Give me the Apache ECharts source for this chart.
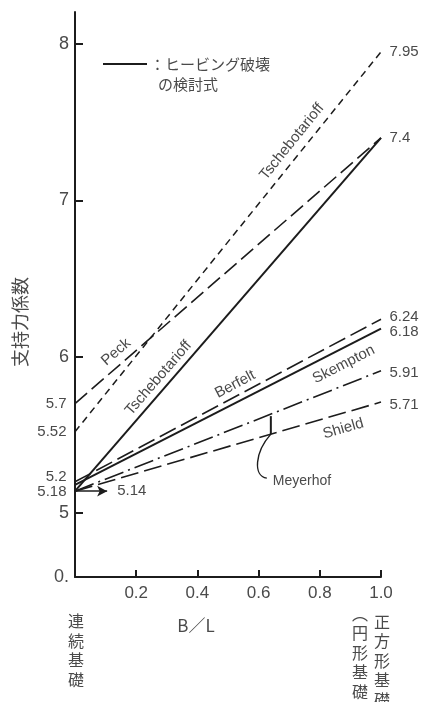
<!DOCTYPE html>
<html>
<head>
<meta charset="utf-8">
<script src="https://cdn.jsdelivr.net/npm/echarts@6/dist/echarts.min.js"></script>
<style>html,body{margin:0;padding:0;background:#fff;}#c{width:424px;height:702px;}</style>
</head>
<body>
<div id="c"></div>
<script>
// ---- data ----
const xEnds = [0, 1.0];                 // B/L at strip (0) and square (1.0)
const peck = [5.7, 7.4];
const tschebDashed = [5.52, 7.95];
const tschebSolid = [5.14, 7.4];
const berfelt = [5.2, 6.24];
const skempton = [5.18, 6.18];
const meyerhof = [5.14, 5.91];
const shield = [5.14, 5.71];
const arrowValue = 5.14;
const arrowEndX = 0.105;
const xTicks = [0.2, 0.4, 0.6, 0.8, 1.0];
const yTicks = [5, 6, 7, 8];
const yMin = 4.591, yMax = 8.205;
const yBreakLabel = '0.';

const TXT = '#4a4a4a';
const LN = '#1c1c1c';
const NUMFONT = '"Liberation Sans", Arial, sans-serif';
const JPFONT = '"Noto Sans CJK JP", sans-serif';

function pts(vals) { return xEnds.map((x, i) => [x, vals[i]]); }

function mk(name, vals, dash, width, leftLab, rightLab) {
  const data = pts(vals).map((p, i) => {
    const item = { value: p };
    if (i === 0 && leftLab) {
      item.label = { show: true, position: 'left', distance: 8, offset: leftLab.offset || [0, 0],
        formatter: String(vals[0]), color: TXT, fontSize: 15, fontFamily: NUMFONT };
    }
    if (i === 1 && rightLab) {
      item.label = { show: true, position: 'right', distance: 8, offset: rightLab.offset || [0, 0],
        formatter: String(vals[1]), color: TXT, fontSize: 15, fontFamily: NUMFONT };
    }
    return item;
  });
  return {
    name, type: 'line', data, symbol: 'circle', symbolSize: 1, showSymbol: true, silent: true,
    itemStyle: { color: 'rgba(0,0,0,0)', borderWidth: 0 },
    label: { show: false },
    lineStyle: { color: LN, width: width, type: dash },
    z: 3
  };
}

const series = [
  mk('Peck', peck, [16, 6], 1.6, {}, {}),
  mk('TschebotarioffDashed', tschebDashed, [7, 5], 1.5, {}, {}),
  mk('TschebotarioffSolid', tschebSolid, 'solid', 2, null, null),
  mk('Berfelt', berfelt, [18, 6], 1.6, { offset: [0, -5] }, { offset: [0, -2] }),
  mk('Skempton', skempton, 'solid', 2, { offset: [0, 7] }, { offset: [0, 3] }),
  mk('Meyerhof', meyerhof, [20, 5, 2, 5], 1.6, null, { offset: [0, 2] }),
  mk('Shield', shield, [18, 6], 1.6, null, { offset: [0, 3] }),
  {
    name: 'arrow', type: 'line', data: [], silent: true,
    markLine: {
      silent: true, symbol: ['none', 'arrow'], symbolSize: [8, 10],
      lineStyle: { color: LN, width: 1.6, type: 'solid' },
      label: { show: true, position: 'end', distance: 10, formatter: String(arrowValue),
        color: TXT, fontSize: 15, fontFamily: NUMFONT },
      data: [[{ coord: [0, arrowValue] }, { coord: [arrowEndX, arrowValue] }]]
    }
  }
];

const chart = echarts.init(document.getElementById('c'), null, { renderer: 'canvas' });
const option = {
  animation: false,
  backgroundColor: '#fff',
  grid: { left: 75, right: 43, top: 12, bottom: 125, containLabel: false, outerBoundsMode: 'none' },
  xAxis: {
    type: 'value', min: 0, max: 1,
    splitLine: { show: false },
    axisLine: { show: true, onZero: false, lineStyle: { color: LN, width: 2 } },
    axisTick: { show: true, inside: true, length: 7, lineStyle: { color: LN, width: 2 }, customValues: xTicks },
    axisLabel: { show: true, margin: 8, color: TXT, fontSize: 17, fontFamily: NUMFONT,
      customValues: xTicks, formatter: v => v.toFixed(1) }
  },
  yAxis: {
    type: 'value', min: yMin, max: yMax,
    splitLine: { show: false },
    axisLine: { show: true, onZero: false, lineStyle: { color: LN, width: 2 } },
    axisTick: { show: true, inside: true, length: 8, lineStyle: { color: LN, width: 2 }, customValues: yTicks },
    axisLabel: { show: true, margin: 6, color: TXT, fontSize: 18, fontFamily: NUMFONT,
      customValues: [yMin].concat(yTicks),
      formatter: v => (v < 4.9 ? yBreakLabel : String(Math.round(v))) }
  },
  series
};
chart.setOption(option);

function px(x, y) { return chart.convertToPixel({ gridIndex: 0 }, [x, y]); }

function lineLabel(vals, t, d, text, size) {
  const p0 = px(0, vals[0]), p1 = px(1, vals[1]);
  const dx = p1[0] - p0[0], dy = p1[1] - p0[1];
  const len = Math.sqrt(dx * dx + dy * dy);
  const ang = Math.atan2(-dy, dx);
  const nx = dy / len, ny = -dx / len;
  return {
    type: 'text', silent: true, z: 10,
    x: p0[0] + t * dx + nx * d, y: p0[1] + t * dy + ny * d,
    rotation: ang,
    style: { text, fill: TXT, font: (size || 14) + 'px ' + NUMFONT, align: 'center', verticalAlign: 'middle' }
  };
}

const g = [];
g.push(lineLabel(tschebDashed, 0.742, 13, 'Tschebotarioff', 15));
g.push(lineLabel(peck, 0.16, 12, 'Peck', 15));
g.push(lineLabel(tschebSolid, 0.30, 11, 'Tschebotarioff', 15));
g.push(lineLabel(berfelt, 0.54, 11, 'Berfelt', 15));
g.push(lineLabel(skempton, 0.856, -15, 'Skempton', 15));
g.push(lineLabel(shield, 0.863, -15, 'Shield', 15));

// Meyerhof leader
const tM = 0.64;
const pm = px(tM, meyerhof[0] + tM * (meyerhof[1] - meyerhof[0]));
const ps = px(tM, shield[0] + tM * (shield[1] - shield[0]));
g.push({ type: 'line', silent: true, z: 10, shape: { x1: pm[0], y1: pm[1] + 2, x2: ps[0], y2: ps[1] },
  style: { stroke: LN, lineWidth: 2 } });
g.push({ type: 'bezierCurve', silent: true, z: 10,
  shape: { x1: ps[0], y1: ps[1], cpx1: ps[0] - 16, cpy1: ps[1] + 18, cpx2: ps[0] - 18, cpy2: ps[1] + 42, x2: ps[0] - 4, y2: ps[1] + 44 },
  style: { stroke: LN, lineWidth: 1.4, fill: null } });
g.push({ type: 'text', silent: true, z: 10, x: ps[0] + 2, y: ps[1] + 47,
  style: { text: 'Meyerhof', fill: TXT, font: '14px ' + NUMFONT, align: 'left', verticalAlign: 'middle' } });

// legend
g.push({ type: 'line', silent: true, shape: { x1: 103, y1: 64, x2: 147, y2: 64 }, style: { stroke: LN, lineWidth: 2 } });
g.push({ type: 'text', silent: true, x: 150, y: 64,
  style: { text: '：ヒービング破壊', fill: TXT, font: '15px ' + JPFONT, align: 'left', verticalAlign: 'middle' } });
g.push({ type: 'text', silent: true, x: 158, y: 84,
  style: { text: 'の検討式', fill: TXT, font: '15px ' + JPFONT, align: 'left', verticalAlign: 'middle' } });

// y-axis name
g.push({ type: 'text', silent: true, x: 20, y: 322, rotation: Math.PI / 2,
  style: { text: '支持力係数', fill: TXT, font: '18px ' + JPFONT, align: 'center', verticalAlign: 'middle' } });

// x-axis name and end notes
g.push({ type: 'text', silent: true, x: 196, y: 626,
  style: { text: 'B／L', fill: TXT, font: '17px ' + JPFONT, align: 'center', verticalAlign: 'middle' } });
function vtext(chars, x, yTop, lh) {
  return { type: 'text', silent: true, x, y: yTop,
    style: { text: chars.join('\n'), fill: TXT, font: '16px ' + JPFONT, lineHeight: lh, align: 'center', verticalAlign: 'top' } };
}
g.push(vtext(['連', '続', '基', '礎'], 76, 611, 19.7));
g.push(vtext(['正', '方', '形', '基', '礎'], 382, 612, 19.5));
g.push(vtext(['︵', '円', '形', '基', '礎', '︶'], 360, 604, 19.5));

chart.setOption({ graphic: g });
</script>
</body>
</html>
